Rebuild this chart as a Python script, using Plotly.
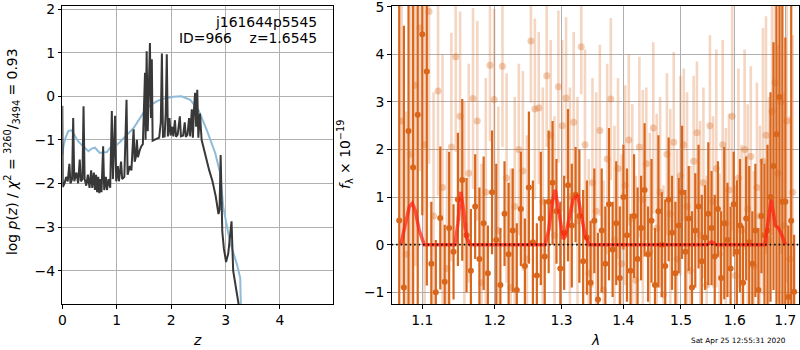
import plotly.graph_objects as go

# ---------------- left panel: redshift probability ----------------
z_pz = [0.000, 0.008, 0.040, 0.070, 0.100, 0.130, 0.150, 0.180, 0.200, 0.220,
        0.260, 0.290, 0.320, 0.340, 0.370, 0.390, 0.410, 0.440, 0.470, 0.500,
        0.530, 0.550, 0.580, 0.600, 0.620, 0.640, 0.660, 0.680, 0.700, 0.720,
        0.750, 0.770, 0.800, 0.820, 0.850, 0.880, 0.910, 0.930, 0.970, 0.990,
        1.020, 1.040, 1.080, 1.100, 1.140, 1.180, 1.200, 1.240, 1.270, 1.290,
        1.310, 1.330, 1.350, 1.370, 1.390, 1.420, 1.450, 1.480, 1.500, 1.520,
        1.530, 1.550, 1.570, 1.590, 1.610, 1.630, 1.645, 1.660, 1.700, 1.740,
        1.780, 1.810, 1.830, 1.850, 1.880, 1.900, 1.920, 1.940, 1.970, 1.990,
        2.020, 2.040, 2.070, 2.090, 2.120, 2.160, 2.180, 2.220, 2.250, 2.270,
        2.300, 2.330, 2.350, 2.380, 2.400, 2.420, 2.440, 2.460, 2.480, 2.500,
        2.530, 2.560, 2.600, 2.650, 2.700, 2.760, 2.820, 2.870, 2.890, 2.910,
        2.940, 2.970, 3.010, 3.050, 3.090, 3.110, 3.140, 3.190, 3.230, 3.270]
logp_pz = [-0.22, -2.08, -2.00, -1.85, -1.95, -1.55, -2.00, -1.90, -0.50, -1.95,
           -1.75, -2.00, -1.45, -1.95, -1.90, -0.23, -1.90, -2.05, -1.80, -2.10,
           -1.70, -2.10, -1.75, -2.15, -1.80, -2.20, -1.85, -2.22, -1.90, -2.20,
           -1.15, -2.15, -1.85, -2.15, -1.90, -2.10, -0.34, -1.90, -0.45, -1.95,
           -1.60, -1.95, -1.50, -1.90, -1.85, -0.08, -1.80, -1.60, -1.70, -1.30,
           -0.76, -1.50, -1.40, -1.00, -1.40, -1.25, -1.15, -1.10, -0.30, 0.54,
           -1.00, 1.03, -0.80, 0.70, 1.22, -0.50, 0.85, -1.02, -1.00, -0.97,
           -0.95, -0.60, 0.98, -0.93, -0.92, -0.40, 0.96, -0.92, -0.50, -0.90,
           -0.70, -0.92, -0.55, -0.93, -0.88, -0.46, -0.92, -0.90, -0.60, -0.93,
           -0.88, -0.50, -0.92, -0.30, -0.95, -0.30, 0.08, -0.70, 0.15, -0.95,
           -0.40, -1.00, -1.20, -1.50, -1.70, -1.95, -2.30, -2.70, -2.60, -1.35,
           -3.10, -3.50, -3.80, -3.60, -3.00, -2.87, -4.00, -4.40, -4.65, -5.00]

z_prior = [0.00, 0.02, 0.06, 0.11, 0.17, 0.23, 0.29, 0.36, 0.42, 0.48,
           0.54, 0.60, 0.65, 0.69, 0.75, 0.82, 0.88, 0.97, 1.06, 1.15,
           1.23, 1.31, 1.40, 1.49, 1.60, 1.74, 1.88, 2.04, 2.19, 2.35,
           2.50, 2.65, 2.81, 2.90, 2.96, 3.08, 3.21, 3.27, 3.28, 3.30]
logp_prior = [-1.35, -1.15, -0.95, -0.80, -0.78, -0.90, -1.03, -1.12, -1.20, -1.26,
              -1.20, -1.18, -1.25, -1.30, -1.29, -1.28, -1.18, -1.15, -1.05, -0.92,
              -0.83, -0.73, -0.55, -0.38, -0.22, -0.11, -0.05, -0.01, 0.00, -0.08,
              -0.31, -0.76, -1.30, -1.76, -2.56, -3.33, -3.86, -4.17, -4.74, -5.00]

# ---------------- right panel: 1D spectra ----------------
wave_a = [1.070, 1.076, 1.082, 1.088, 1.094, 1.100, 1.106, 1.112, 1.118, 1.124,
          1.130, 1.136, 1.142, 1.148, 1.154, 1.160, 1.166, 1.172, 1.178, 1.184,
          1.190, 1.196, 1.202, 1.208, 1.214, 1.220, 1.226, 1.232, 1.238, 1.244,
          1.250, 1.256, 1.262, 1.268, 1.274, 1.280, 1.286, 1.292, 1.298, 1.304,
          1.310, 1.316, 1.322, 1.328, 1.334, 1.340, 1.346, 1.352, 1.358, 1.364,
          1.370, 1.376, 1.382, 1.388, 1.394, 1.400, 1.406, 1.412, 1.418, 1.424,
          1.430, 1.436, 1.442, 1.448, 1.454, 1.460, 1.466, 1.472, 1.478, 1.484,
          1.490, 1.496, 1.502, 1.508, 1.514, 1.520, 1.526, 1.532, 1.538, 1.544,
          1.550, 1.556, 1.562, 1.568, 1.574, 1.580, 1.586, 1.592, 1.598, 1.604,
          1.610, 1.616, 1.622, 1.628, 1.634, 1.640, 1.646, 1.652, 1.658, 1.664,
          1.670, 1.676, 1.682, 1.688, 1.694, 1.700, 1.706, 1.712, 1.718]
flux_a = [0.51, -0.90, 2.39, 1.62, 2.73, 4.42, 3.64, -0.40, -1.00, 0.56,
          -0.78, 0.35, -0.15, 0.95, 1.36, 0.20, -0.55, 0.80, -0.30, 0.45,
          -0.60, 1.10, 0.10, -0.85, 0.65, -0.20, 0.30, -0.95, 0.75, -0.45,
          1.20, 0.05, -0.65, 0.55, -0.25, 0.90, 1.30, 0.70, -0.50, 0.25,
          1.25, 0.40, 1.05, 0.60, -0.35, 0.15, -0.80, 0.50, -1.15, 0.30,
          -0.40, 0.85, -0.10, 0.45, -0.70, 1.00, 0.20, -0.55, 0.60, -0.30,
          0.35, 1.15, -0.20, 0.50, -0.85, 0.70, 0.00, -0.45, 0.95, 0.25,
          -0.60, 0.40, 1.10, -0.15, 0.55, -0.90, 0.30, 0.80, -0.35, 0.15,
          0.65, 0.35, -0.25, 0.75, -0.70, 0.45, 0.10, -0.50, 0.85, -0.15,
          0.40, -0.80, 0.55, 0.05, -0.40, 0.30, -0.95, 0.60, 0.20, 0.30,
          1.00, 1.65, 2.32, 3.10, 0.90, 0.90, -1.10, 0.50, -0.99]
err_a = [6.0, 5.5, 5.0, 4.2, 4.0, 3.8, 4.5, 1.3, 1.1, 1.5,
         1.2, 1.6, 1.0, 1.4, 1.7, 1.2, 1.3, 1.1, 1.5, 1.4,
         1.0, 1.3, 1.6, 1.2, 1.1, 1.5, 1.3, 1.4, 1.2, 1.0,
         1.6, 1.3, 1.1, 1.4, 1.2, 1.5, 1.3, 1.1, 1.4, 1.2,
         1.6, 1.3, 1.0, 1.4, 1.5, 1.2, 1.3, 1.1, 1.4, 1.3,
         1.2, 1.6, 1.0, 1.3, 1.5, 1.1, 1.4, 1.2, 1.3, 1.5,
         1.1, 1.4, 1.0, 1.3, 1.2, 1.6, 1.1, 1.4, 1.3, 1.2,
         1.5, 1.0, 1.4, 1.3, 1.1, 1.6, 1.2, 1.3, 1.4, 1.1,
         1.5, 1.2, 1.3, 1.0, 1.4, 1.6, 1.2, 1.3, 1.1, 1.5,
         1.4, 1.2, 1.3, 1.6, 1.1, 1.4, 1.3, 1.2, 1.5, 1.8,
         2.2, 2.6, 4.8, 5.0, 4.5, 3.45, 1.5, 5.5, 1.2]

wave_b = [1.073, 1.079, 1.085, 1.091, 1.097, 1.103, 1.109, 1.115, 1.121, 1.127,
          1.133, 1.139, 1.145, 1.151, 1.157, 1.163, 1.169, 1.175, 1.181, 1.187,
          1.193, 1.199, 1.205, 1.211, 1.217, 1.223, 1.229, 1.235, 1.241, 1.247,
          1.253, 1.259, 1.265, 1.271, 1.277, 1.283, 1.289, 1.295, 1.301, 1.307,
          1.313, 1.319, 1.325, 1.331, 1.337, 1.343, 1.349, 1.355, 1.361, 1.367,
          1.373, 1.379, 1.385, 1.391, 1.397, 1.403, 1.409, 1.415, 1.421, 1.427,
          1.433, 1.439, 1.445, 1.451, 1.457, 1.463, 1.469, 1.475, 1.481, 1.487,
          1.493, 1.499, 1.505, 1.511, 1.517, 1.523, 1.529, 1.535, 1.541, 1.547,
          1.553, 1.559, 1.565, 1.571, 1.577, 1.583, 1.589, 1.595, 1.601, 1.607,
          1.613, 1.619, 1.625, 1.631, 1.637, 1.643, 1.649, 1.655, 1.661, 1.667,
          1.673, 1.679, 1.685, 1.691, 1.697, 1.703, 1.709, 1.715]
flux_b = [2.60, -0.20, 1.90, 3.35, 4.55, 2.10, 4.90, 0.60, 3.23, 1.20,
          -0.50, 2.05, 3.95, 2.70, 0.40, 1.50, 3.07, 2.60, -0.80, 1.10,
          3.77, 3.05, 0.30, 3.75, 1.40, -0.90, 0.80, 2.00, 1.55, -0.30,
          4.28, 2.85, 2.87, 0.90, 3.55, 2.30, 0.20, 3.32, 2.50, 3.08,
          1.00, 2.57, 0.50, 4.16, 2.10, -0.60, 1.30, 0.70, 2.40, -0.95,
          1.80, 3.06, 0.10, 1.60, -0.40, 1.25, 2.20, 0.55, -0.75, 2.05,
          0.95, 1.70, -0.15, 2.45, 0.35, 1.10, -1.05, 1.90, 0.65, 2.15,
          -0.30, 1.45, 2.10, 0.80, -0.55, 1.75, 2.35, 0.20, 1.30, -0.85,
          2.50, 0.90, 1.60, -0.20, 2.10, 0.45, 1.15, 2.70, -0.65, 1.40,
          0.30, 2.00, 0.75, 1.85, -0.45, 1.20, 0.60, 1.75, 2.30, 0.10,
          2.80, 3.40, 1.50, 3.00, 0.40, 2.60, -0.30, 1.10]
err_b = [3.5, 3.0, 3.2, 3.8, 3.0, 3.5, 3.2, 2.6, 2.2, 2.8,
         2.5, 2.4, 2.0, 2.2, 2.6, 2.3, 1.9, 2.1, 2.5, 2.4,
         1.6, 1.9, 2.6, 1.7, 2.2, 2.5, 2.3, 1.8, 2.1, 2.6,
         1.3, 1.9, 1.6, 2.4, 1.5, 2.0, 2.5, 1.6, 1.8, 1.7,
         2.3, 1.9, 2.6, 1.0, 2.0, 2.4, 2.2, 2.5, 1.8, 2.3,
         2.0, 1.7, 2.4, 1.9, 2.3, 2.1, 1.8, 2.4, 2.2, 1.9,
         2.3, 1.6, 2.5, 1.8, 2.4, 2.0, 2.3, 1.7, 2.2, 1.9,
         2.3, 2.1, 1.6, 2.4, 2.2, 1.8, 1.5, 2.4, 2.0, 2.3,
         1.9, 1.8, 2.5, 1.7, 2.2, 2.0, 1.6, 2.4, 1.9, 2.3,
         1.8, 2.1, 2.2, 1.9, 2.0, 2.2, 1.9, 2.8, 2.5, 3.0,
         2.6, 3.0, 2.7, 3.2, 2.8, 3.4, 3.0, 3.3]

# best-fit emission-line model
wave_model = [1.072, 1.078, 1.083, 1.087, 1.091, 1.096, 1.1025, 1.144, 1.148, 1.152,
              1.156, 1.160, 1.165, 1.2745, 1.280, 1.285, 1.290, 1.295, 1.300, 1.3026,
              1.306, 1.312, 1.318, 1.3253, 1.330, 1.337, 1.3437, 1.548, 1.556, 1.564,
              1.6588, 1.664, 1.6713, 1.676, 1.6797, 1.686, 1.693, 1.700]
flux_model = [0.00, 0.45, 0.80, 0.87, 0.70, 0.30, 0.00, 0.00, 0.45, 1.11,
              0.70, 0.15, 0.00, 0.00, 0.30, 0.85, 1.15, 0.75, 0.30, 0.12,
              0.18, 0.55, 0.95, 1.04, 0.70, 0.20, 0.00, 0.00, 0.06, 0.00,
              0.00, 0.45, 0.94, 0.65, 0.40, 0.35, 0.20, 0.00]

x_ticks_lam = [1.1, 1.2, 1.3, 1.4, 1.5, 1.6, 1.7]

for a, b in [(z_pz, logp_pz), (z_prior, logp_prior), (wave_a, flux_a), (wave_a, err_a),
             (wave_b, flux_b), (wave_b, err_b), (wave_model, flux_model)]:
    assert len(a) == len(b), (len(a), len(b))

FONT = "DejaVu Sans"
ORANGE = "#d9661b"

fig = go.Figure()

fig.add_trace(go.Scatter(x=z_prior, y=logp_prior, mode="lines",
                         line=dict(color="#8fbbd9", width=2),
                         xaxis="x", yaxis="y", showlegend=False))
fig.add_trace(go.Scatter(x=z_pz, y=logp_pz, mode="lines",
                         line=dict(color="#383838", width=2),
                         xaxis="x", yaxis="y", showlegend=False))

fig.add_trace(go.Scatter(x=wave_b, y=flux_b, mode="markers",
                         marker=dict(color="rgba(217,102,27,0.33)", size=7, line=dict(width=0)),
                         error_y=dict(type="data", array=err_b, visible=True,
                                      color="rgba(220,108,35,0.28)", thickness=2.6, width=0),
                         xaxis="x2", yaxis="y2", showlegend=False))
fig.add_trace(go.Scatter(x=wave_a, y=flux_a, mode="markers",
                         marker=dict(color=ORANGE, size=6, line=dict(width=0)),
                         error_y=dict(type="data", array=err_a, visible=True,
                                      color=ORANGE, thickness=2.2, width=0),
                         xaxis="x2", yaxis="y2", showlegend=False))
fig.add_trace(go.Scatter(x=wave_model, y=flux_model, mode="lines",
                         line=dict(color="rgba(255,30,15,0.72)", width=3.5),
                         xaxis="x2", yaxis="y2", showlegend=False))

# dotted zero level across the spectrum panel
fig.add_shape(type="line", xref="x2 domain", yref="y2", x0=0, x1=1, y0=0, y1=0,
              line=dict(color="black", width=1.8, dash="1.5px,3px"), layer="above")

axis_common = dict(showline=True, mirror=True, linecolor="black", linewidth=1,
                   ticks="outside", ticklen=3.5, tickwidth=1, tickcolor="black",
                   showgrid=True, gridcolor="#b0b0b0", gridwidth=1, zeroline=False,
                   automargin=False, ticklabeloverflow="allow",
                   tickfont=dict(family=FONT, size=13.9, color="black"))

fig.update_layout(
    width=800, height=350,
    margin=dict(l=0, r=0, t=0, b=0),
    paper_bgcolor="white", plot_bgcolor="white",
    xaxis=dict(domain=[0.0779, 0.4166], range=[0, 4.98],
               tickvals=[0, 1, 2, 3, 4], anchor="y", **axis_common),
    yaxis=dict(domain=[0.1314, 0.9837], range=[-4.764, 2.076],
               tickvals=[-4, -3, -2, -1, 0, 1, 2], anchor="x", **axis_common),
    xaxis2=dict(domain=[0.4896, 0.9988], type="log", range=[0.02546, 0.23758],
                tickvals=x_ticks_lam, ticktext=[f"{v:.1f}" for v in x_ticks_lam],
                anchor="y2", **axis_common),
    yaxis2=dict(domain=[0.1314, 0.9837], range=[-1.247, 5.02],
                tickvals=[-1, 0, 1, 2, 3, 4, 5], anchor="x2", **axis_common),
)

ann_font = dict(family=FONT, size=13.9, color="black")
annotations = [
    dict(text="j161644p5545", x=318.5 / 800, y=1 - 22.5 / 350, xanchor="right", yanchor="middle"),
    dict(text="ID=966\u00a0\u00a0\u00a0\u00a0z=1.6545", x=318.5 / 800, y=1 - 38 / 350,
         xanchor="right", yanchor="middle"),
    dict(text="<i>z</i>", x=197 / 800, y=1 - 340 / 350, xanchor="center", yanchor="middle"),
    dict(text="<i>λ</i>", x=595 / 800, y=1 - 340 / 350, xanchor="center", yanchor="middle"),
    dict(text="log <i>p</i>(<i>z</i>) / <i>χ</i><sup>2</sup> = "
              "<sup>3260</sup>/<sub>3494</sub> = 0.93",
         x=12 / 800, y=1 - 152 / 350, xanchor="center", yanchor="middle", textangle=-90),
    dict(text="<i>f</i><sub>λ</sub> × 10<sup>−19</sup>",
         x=345 / 800, y=1 - 155 / 350, xanchor="center", yanchor="middle", textangle=-90),
]
for a in annotations:
    fig.add_annotation(xref="paper", yref="paper", showarrow=False, font=ann_font, **a)

fig.add_annotation(text="Sat Apr 25 12:55:31 2020", xref="paper", yref="paper",
                   x=788 / 800, y=1 - 340 / 350, xanchor="right", yanchor="middle",
                   showarrow=False, font=dict(family=FONT, size=7.3, color="black"))

fig.write_html("out.html")
